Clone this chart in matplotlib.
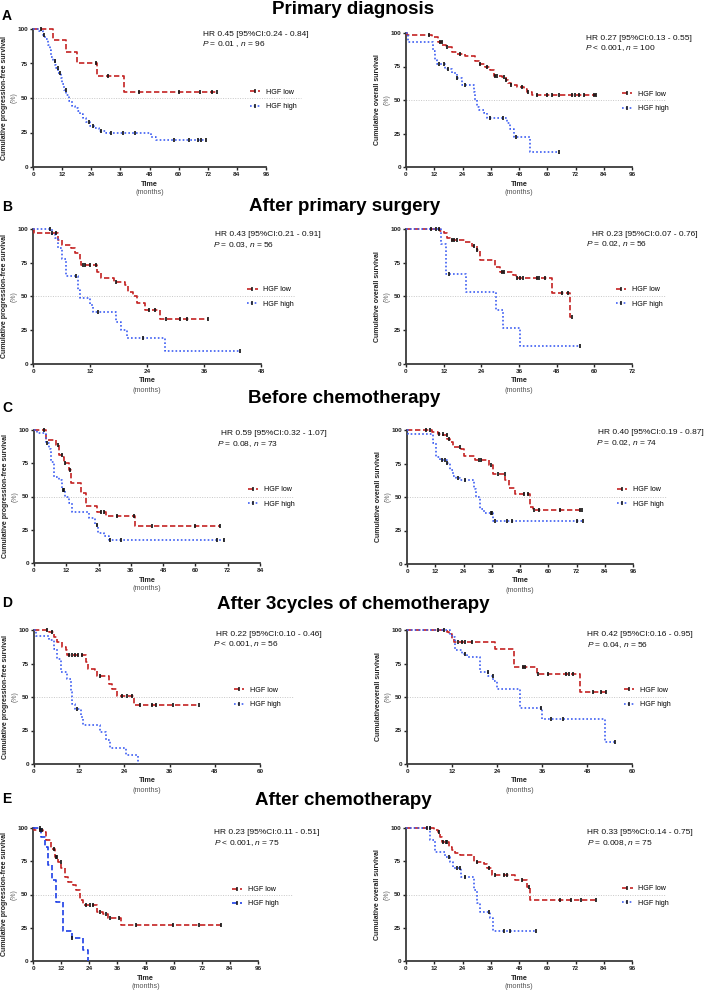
import matplotlib
matplotlib.use('Agg')
import numpy as np
import matplotlib.pyplot as plt
from matplotlib.lines import Line2D

plt.rcParams['font.family'] = ['Liberation Sans', 'DejaVu Sans']
plt.rcParams['mathtext.fontset'] = 'custom'
plt.rcParams['mathtext.it'] = 'Liberation Sans:italic'
plt.rcParams['mathtext.rm'] = 'Liberation Sans'

# ---- data: event times (months), survival (%) after each event, censor times ----
# A: primary diagnosis
a_pfs_low_t = [8.2, 13.7, 18.2, 26.5, 37.4]
a_pfs_low_s = [91.7, 83.3, 75.0, 65.6, 54.7]
a_pfs_low_c = [3.4, 26.0, 30.8, 43.6, 60.0, 69.0, 73.6, 76.0]
a_pfs_high_t = [2.5, 4.0, 5.0, 6.0, 6.8, 7.5, 8.3, 9.0, 9.6, 10.5, 11.4, 12.0, 12.8, 13.7,
                14.8, 16.0, 17.2, 18.5, 19.5, 20.8, 22.0, 23.5, 25.0, 27.0, 30.0, 48.5, 50.5]
a_pfs_high_s = [98.5, 95.6, 92.5, 88.5, 84.5, 80.0, 77.0, 74.0, 71.4, 68.0, 64.2, 60.5, 56.0, 52.0,
                48.0, 44.5, 42.5, 40.5, 38.5, 35.5, 32.5, 30.0, 28.0, 26.3, 24.5, 21.8, 19.4]
a_pfs_high_c = [4.5, 8.9, 10.3, 11.2, 13.4, 22.9, 24.7, 28.1, 32.2, 37.0, 42.2, 58.0, 64.2, 67.9, 69.2, 71.3]

a_os_low_t = [0.5, 11.0, 13.5, 15.5, 17.0, 19.5, 21.7, 25.2, 29.5, 31.0, 33.7, 35.8, 37.2, 40.8,
              42.5, 43.5, 44.5, 47.2, 50.0, 51.4, 53.5]
a_os_low_s = [98.6, 97.2, 93.0, 91.0, 89.5, 86.0, 84.5, 82.5, 78.8, 77.0, 75.0, 72.5, 68.0, 66.8,
              65.0, 62.5, 61.0, 59.5, 58.0, 56.0, 53.8]
a_os_low_c = [9.9, 14.3, 15.3, 17.4, 23.0, 31.5, 34.4, 38.0, 38.7, 41.5, 42.6, 44.6, 49.3, 51.7,
              55.6, 59.9, 62.0, 64.9, 70.5, 71.9, 73.4, 75.5, 80.0, 80.9]
a_os_high_t = [0.85, 11.5, 12.3, 13.2, 16.7, 19.5, 21.7, 23.8, 28.7, 29.3, 30.0, 31.0, 33.0, 34.4,
               43.0, 44.0, 45.7, 52.8]
a_os_high_s = [93.3, 86.7, 80.0, 76.7, 73.3, 70.0, 66.7, 61.0, 56.0, 50.0, 45.0, 42.5, 40.0, 36.7,
               32.5, 28.7, 22.5, 11.0]
a_os_high_c = [13.9, 16.0, 17.8, 21.7, 25.2, 35.8, 41.2, 46.7, 64.9]

# B: after primary surgery
b_pfs_low_t = [0.2, 5.3, 6.1, 8.1, 8.8, 9.8, 10.2, 13.5, 14.4, 17.0, 19.3, 20.0, 21.1, 21.8, 23.6, 26.8]
b_pfs_low_s = [97.0, 92.0, 88.0, 86.0, 82.0, 77.0, 73.5, 68.5, 64.0, 60.6, 58.7, 53.7, 50.0, 45.0, 40.0, 33.0]
b_pfs_low_c = [4.0, 4.8, 10.5, 10.9, 11.9, 13.2, 17.4, 24.5, 25.6, 28.0, 31.0, 32.4, 36.8]
b_pfs_high_t = [4.0, 4.6, 5.3, 6.0, 7.0, 9.5, 9.9, 12.0, 12.7, 17.5, 18.6, 19.7, 27.8]
b_pfs_high_s = [96.0, 93.0, 86.0, 78.0, 65.0, 55.0, 49.0, 43.8, 38.8, 31.4, 25.0, 19.0, 9.9]
b_pfs_high_c = [3.5, 9.1, 13.7, 23.2, 43.6]

b_os_low_t = [10.9, 12.0, 13.0, 14.1, 18.8, 21.0, 22.6, 23.6, 28.4, 30.0, 34.2, 35.0, 46.4, 52.4]
b_os_low_s = [98.5, 97.3, 93.0, 91.6, 90.4, 87.4, 84.2, 77.3, 71.8, 68.0, 65.7, 63.7, 52.6, 34.8]
b_os_low_c = [8.0, 9.6, 10.4, 14.5, 15.3, 16.4, 21.7, 22.7, 30.5, 31.2, 35.3, 36.3, 37.4, 41.6,
              42.5, 44.3, 49.8, 51.7, 53.0]
b_os_high_t = [11.0, 12.8, 19.0, 28.6, 30.8, 36.3]
b_os_high_s = [88.9, 66.4, 53.3, 39.8, 26.7, 13.3]
b_os_high_c = [13.7, 55.4]

# C: before chemotherapy
c_pfs_low_t = [4.6, 8.0, 9.3, 10.5, 11.1, 13.0, 13.6, 17.6, 19.5, 23.5, 26.6, 37.7]
c_pfs_low_s = [92.5, 88.7, 81.0, 80.0, 75.0, 70.0, 60.0, 52.5, 42.5, 38.7, 35.0, 27.5]
c_pfs_low_c = [3.7, 9.0, 10.4, 11.5, 13.3, 24.8, 26.0, 30.9, 37.0, 43.8, 60.0, 69.2]
c_pfs_high_t = [1.2, 4.3, 5.5, 6.2, 7.4, 9.3, 10.5, 11.7, 13.0, 14.2, 20.6, 22.8, 23.8, 26.0, 27.8]
c_pfs_high_s = [97.5, 90.0, 86.0, 76.0, 65.0, 62.5, 55.0, 50.0, 45.0, 38.7, 33.8, 28.7, 22.5, 20.0, 17.5]
c_pfs_high_c = [4.9, 10.8, 11.3, 23.5, 28.4, 32.4, 68.0, 70.6]

c_os_low_t = [10.8, 13.3, 15.5, 16.9, 18.3, 19.7, 22.8, 24.0, 29.0, 35.0, 36.7, 41.7, 43.5, 46.0, 52.3, 53.5]
c_os_low_s = [98.5, 97.0, 96.0, 93.5, 91.0, 87.3, 86.0, 80.3, 77.4, 73.6, 67.0, 62.4, 57.0, 52.0, 42.5, 40.5]
c_os_low_c = [8.1, 9.9, 13.8, 15.2, 16.8, 17.8, 22.5, 30.5, 31.5, 35.5, 38.7, 41.5, 49.8, 51.6,
              53.8, 55.9, 65.1, 73.6, 74.3]
c_os_high_t = [0.3, 11.2, 12.3, 14.0, 16.9, 18.3, 19.7, 21.0, 22.5, 28.5, 29.4, 31.1, 32.5, 36.4]
c_os_high_s = [96.8, 90.0, 80.0, 77.4, 75.4, 70.0, 66.0, 64.4, 62.4, 56.0, 50.0, 41.3, 38.0, 32.0]
c_os_high_c = [14.7, 16.0, 17.0, 21.6, 24.7, 35.5, 36.0, 37.2, 42.5, 44.5, 72.0, 74.6]

# D: after 3 cycles of chemotherapy
d_pfs_low_t = [4.0, 5.3, 6.2, 7.5, 8.4, 8.8, 13.7, 14.3, 16.3, 16.8, 19.8, 20.7, 22.0, 26.5]
d_pfs_low_s = [98.5, 94.8, 91.0, 87.3, 84.8, 81.0, 76.0, 71.0, 70.0, 66.0, 60.0, 56.0, 51.0, 43.8]
d_pfs_low_c = [3.5, 4.9, 9.3, 10.1, 10.8, 11.8, 12.8, 17.5, 23.4, 24.7, 26.0, 28.2, 31.3, 32.5, 36.9, 43.8]
d_pfs_high_t = [0.4, 4.0, 5.3, 6.2, 7.1, 8.8, 9.7, 10.1, 11.0, 12.4, 13.0, 17.6, 19.0, 20.3, 24.3, 27.5]
d_pfs_high_s = [95.5, 92.3, 86.0, 78.6, 68.7, 63.7, 53.7, 45.0, 41.3, 35.0, 28.9, 23.9, 17.7, 11.9, 6.5, 0.0]
d_pfs_high_c = [11.5]

d_os_low_t = [10.6, 11.1, 12.0, 12.5, 23.5, 28.4, 34.6, 46.1]
d_os_low_s = [98.5, 97.3, 93.5, 91.0, 86.0, 72.4, 67.4, 53.7]
d_os_low_c = [8.2, 9.8, 13.7, 14.6, 15.5, 17.3, 31.0, 31.5, 35.0, 37.7, 42.3, 43.2, 44.3, 49.6, 51.8, 53.0]
d_os_high_t = [11.5, 12.0, 12.9, 14.6, 16.0, 19.5, 21.7, 23.0, 23.9, 30.1, 35.9, 52.7]
d_os_high_s = [97.3, 94.8, 84.8, 82.3, 80.0, 68.6, 66.0, 62.2, 55.7, 42.0, 33.8, 16.4]
d_os_high_c = [15.5, 21.5, 22.8, 35.7, 38.5, 41.6, 55.4]

# E: after chemotherapy
e_pfs_low_t = [0.5, 4.3, 5.5, 7.8, 9.2, 10.7, 12.1, 13.5, 14.9, 17.0, 18.5, 19.9, 21.3, 27.5, 29.9, 32.0, 37.5]
e_pfs_low_s = [98.7, 97.0, 90.8, 84.5, 78.3, 74.6, 69.6, 63.3, 59.6, 57.0, 53.4, 45.9, 42.0, 37.0, 35.4, 32.2, 26.7]
e_pfs_low_c = [3.1, 4.0, 8.8, 9.9, 10.4, 11.8, 22.5, 24.2, 25.6, 28.4, 31.0, 32.7, 36.7, 44.0, 59.7, 71.0, 80.3]
e_pfs_high_t = [3.5, 5.0, 6.4, 8.2, 10.0, 12.8, 16.6, 21.5, 23.5]
e_pfs_high_s = [93.3, 85.8, 72.0, 60.8, 44.6, 22.2, 17.2, 8.5, 0.0]
e_pfs_high_c = [2.8, 16.8]

e_os_low_t = [11.8, 13.5, 14.6, 15.3, 18.1, 19.5, 21.0, 23.1, 28.7, 33.0, 34.4, 36.5, 46.4, 51.4, 52.8]
e_os_low_s = [98.5, 97.0, 93.3, 89.5, 85.8, 83.3, 81.5, 79.6, 74.6, 72.8, 69.6, 64.6, 60.8, 55.9, 45.9]
e_os_low_c = [8.9, 10.2, 13.9, 15.9, 16.8, 17.5, 30.2, 35.1, 38.0, 41.5, 42.9, 49.3, 52.1, 65.3, 70.2, 74.5, 80.7]
e_os_high_t = [10.0, 12.3, 16.5, 18.8, 20.0, 23.5, 29.0, 30.2, 31.6, 35.6, 37.0]
e_os_high_s = [90.8, 82.0, 78.3, 74.6, 69.6, 62.8, 53.4, 43.4, 37.2, 32.2, 22.7]
e_os_high_c = [18.1, 21.5, 22.8, 25.2, 35.3, 41.8, 44.0, 55.4]

titles = ['Primary diagnosis', 'After primary surgery', 'Before chemotherapy',
          'After 3cycles of chemotherapy', 'After chemotherapy']
letters = ['A', 'B', 'C', 'D', 'E']
hr_texts = ['HR 0.45 [95%CI:0.24 - 0.84]', 'HR 0.27 [95%CI:0.13 - 0.55]',
            'HR 0.43 [95%CI:0.21 - 0.91]', 'HR 0.23 [95%CI:0.07 - 0.76]',
            'HR 0.59 [95%CI:0.32 - 1.07]', 'HR 0.40 [95%CI:0.19 - 0.87]',
            'HR 0.22 [95%CI:0.10 - 0.46]', 'HR 0.42 [95%CI:0.16 - 0.95]',
            'HR 0.23 [95%CI:0.11 - 0.51]', 'HR 0.33 [95%CI:0.14 - 0.75]']
p_texts = ['$P$ = 0.01 , $n$ = 96', '$P$ < 0.001, $n$ = 100',
           '$P$ = 0.03, $n$ = 56', '$P$ = 0.02, $n$ = 56',
           '$P$ = 0.08, $n$ = 73', '$P$ = 0.02, $n$ = 74',
           '$P$ < 0.001, $n$ = 56', '$P$ = 0.04, $n$ = 56',
           '$P$ < 0.001, $n$ = 75', '$P$ = 0.008, $n$ = 75']
ylabels = ['Cumulative progression-free survival', 'Cumulative overall survival'] * 3 + \
          ['Cumulative progression-free survival', 'Cumulativeoverall survival',
           'Cumulative progression-free survival', 'Cumulative overall survival']
x_max = [96, 96, 48, 72, 84, 96, 60, 60, 96, 96]
legend_labels = ['HGF low', 'HGF high']

series = [
    (a_pfs_low_t, a_pfs_low_s, a_pfs_low_c, a_pfs_high_t, a_pfs_high_s, a_pfs_high_c),
    (a_os_low_t, a_os_low_s, a_os_low_c, a_os_high_t, a_os_high_s, a_os_high_c),
    (b_pfs_low_t, b_pfs_low_s, b_pfs_low_c, b_pfs_high_t, b_pfs_high_s, b_pfs_high_c),
    (b_os_low_t, b_os_low_s, b_os_low_c, b_os_high_t, b_os_high_s, b_os_high_c),
    (c_pfs_low_t, c_pfs_low_s, c_pfs_low_c, c_pfs_high_t, c_pfs_high_s, c_pfs_high_c),
    (c_os_low_t, c_os_low_s, c_os_low_c, c_os_high_t, c_os_high_s, c_os_high_c),
    (d_pfs_low_t, d_pfs_low_s, d_pfs_low_c, d_pfs_high_t, d_pfs_high_s, d_pfs_high_c),
    (d_os_low_t, d_os_low_s, d_os_low_c, d_os_high_t, d_os_high_s, d_os_high_c),
    (e_pfs_low_t, e_pfs_low_s, e_pfs_low_c, e_pfs_high_t, e_pfs_high_s, e_pfs_high_c),
    (e_os_low_t, e_os_low_s, e_os_low_c, e_os_high_t, e_os_high_s, e_os_high_c),
]

# ---- layout (pixels) ----
W, H = 709, 990
axes_px = [(33, 266, 29, 167), (406, 632, 33, 167),
           (33, 261, 229, 364), (406, 632, 229, 364),
           (34, 260, 430, 563), (407, 633, 430, 564),
           (34, 260, 630, 764), (407, 632, 630, 764),
           (33, 258, 828, 961), (406, 632, 828, 961)]
hr_px = [(203, 34), (586, 38), (215, 235), (592, 234), (221, 434), (598, 433),
         (216, 634), (587, 635), (214, 833), (587, 833)]
p_px = [(202, 44), (585, 48), (213, 245), (586, 244), (217, 444), (596, 443),
        (213, 644), (587, 645), (214, 843), (587, 843)]
leg_anchor = [(0.93, 0.49), (0.955, 0.49), (0.94, 0.495), (0.93, 0.495), (0.945, 0.495),
              (0.93, 0.5), (0.885, 0.495), (0.963, 0.495), (0.885, 0.483), (0.957, 0.49)]
title_px = [(353, 14), (345, 211), (344, 403), (353, 609), (343, 805)]
letter_px = [(2, 20), (2, 211), (2, 412), (2, 607), (2, 803)]

RED = '#c42222'
BLUE = '#3d5ef2'
BLUE_E = '#1e3fe6'


def fx(x):
    return x / W


def fy(y):
    return 1 - y / H


def steps(t, s, c):
    end = max(t[-1], max(c))
    return [0] + list(t) + [end], [100] + list(s) + [s[-1]]


def level(t, s, x):
    v = 100
    for ti, si in zip(t, s):
        if ti <= x:
            v = si
    return v


fig = plt.figure(figsize=(W / 100, H / 100), dpi=100)

for i in range(10):
    l, r, t, b = axes_px[i]
    ax = fig.add_axes([fx(l), fy(b), (r - l) / W, (b - t) / H])
    lt, ls_, lc, ht, hs, hc = series[i]
    high_col = BLUE_E if i == 8 else BLUE
    high_dash = (3.2, 1.6) if i == 8 else (1.0, 1.3)

    xs, ys = steps(lt, ls_, lc)
    ax.plot(xs, ys, drawstyle='steps-post', color=RED, lw=1.2, dashes=(3.2, 1.6), clip_on=False, zorder=3)
    ax.plot(lc, [level(lt, ls_, x) for x in lc], ls='none', marker='|', ms=3.2, mew=1.2,
            color='#111111', clip_on=False, zorder=4)
    xs, ys = steps(ht, hs, hc)
    ax.plot(xs, ys, drawstyle='steps-post', color=high_col, lw=1.2, dashes=high_dash, clip_on=False, zorder=3)
    ax.plot(hc, [level(ht, hs, x) for x in hc], ls='none', marker='|', ms=3.2, mew=1.2,
            color='#111111', clip_on=False, zorder=4)

    ax.axhline(50, xmin=0, xmax=1.15, color='#c8c8c8', lw=0.7, ls=(0, (1, 1.5)), clip_on=False, zorder=1)

    ax.set_xlim(0, x_max[i])
    ax.set_ylim(0, 100)
    ax.set_xticks(np.arange(0, x_max[i] + 1, 12))
    ax.set_yticks([0, 25, 50, 75, 100])
    for sp in ['top', 'right']:
        ax.spines[sp].set_visible(False)
    for sp in ['left', 'bottom']:
        ax.spines[sp].set_linewidth(1.3)
        ax.spines[sp].set_color('#3a3a3a')
    ax.tick_params(direction='out', length=2.5, width=1.0, pad=1.2, labelsize=4.6, colors='#222222')
    for lab in ax.get_xticklabels() + ax.get_yticklabels():
        lab.set_fontweight('bold')

    handles = [Line2D([0], [0], color=RED, lw=1.2, dashes=(3.2, 1.6), marker='|', ms=3.2,
                      mew=1.1, mec='#111111'),
               Line2D([0], [0], color=high_col, lw=1.2, dashes=high_dash, marker='|', ms=3.2,
                      mew=1.1, mec='#111111')]
    ax.legend(handles, legend_labels, loc='center left', bbox_to_anchor=leg_anchor[i],
              frameon=False, fontsize=5.1, handlelength=1.45, handletextpad=0.8,
              labelspacing=1.05, borderpad=0, borderaxespad=0)

    cx = (l + r) / 2
    cy = (t + b) / 2
    fig.text(fx(l - 28), fy(cy), ylabels[i], rotation=90, ha='center', va='center',
             fontsize=5.0, fontweight='bold', color='#222222')
    fig.text(fx(l - 19), fy(cy), '(%)', rotation=90, ha='center', va='center',
             fontsize=5.0, color='#666666')
    fig.text(fx(cx), fy(b + 17), 'Time', ha='center', va='center', fontsize=5.2,
             fontweight='bold', color='#222222')
    fig.text(fx(cx), fy(b + 26), '(months)', ha='center', va='center', fontsize=5.2,
             color='#555555')
    fig.text(fx(hr_px[i][0]), fy(hr_px[i][1]), hr_texts[i], ha='left', va='center',
             fontsize=6.0, color='#111111')
    fig.text(fx(p_px[i][0]), fy(p_px[i][1]), p_texts[i], ha='left', va='center',
             fontsize=6.0, color='#111111')

for k in range(5):
    fig.text(fx(title_px[k][0]), fy(title_px[k][1]), titles[k], ha='center', va='baseline',
             fontsize=13.5, fontweight='bold')
    fig.text(fx(letter_px[k][0]), fy(letter_px[k][1]), letters[k], ha='left', va='baseline',
             fontsize=10, fontweight='bold')

fig.savefig('out.png', dpi=100, facecolor='white')
